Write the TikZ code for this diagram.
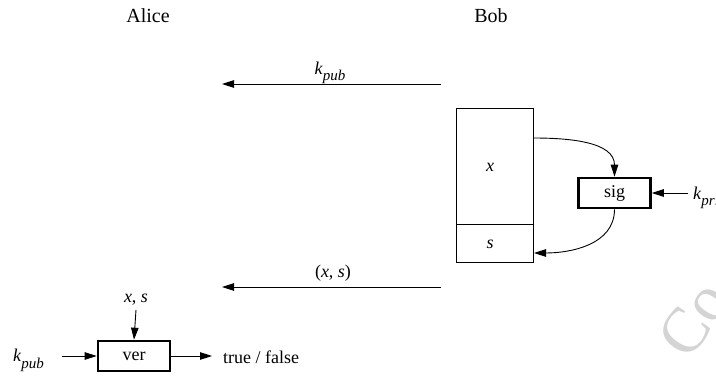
\documentclass[tikz,border=0pt]{standalone}
\usepackage{fontspec}
\setmainfont{Liberation Serif}
\usetikzlibrary{arrows.meta}

% italic key with italic subscript
\newcommand\keyname[1]{\textit{k}\raisebox{-6pt}{\fontsize{15}{15}\selectfont\textit{#1}}}

\begin{document}
\begin{tikzpicture}[x=1pt,y=-1pt,
  txt/.style={font=\fontsize{18}{21}\selectfont, inner sep=0pt, anchor=base},
  head/.style={font=\fontsize{20}{23}\selectfont, inner sep=0pt, anchor=base},
  flow/.style={line width=0.9pt, -{Triangle[length=12pt,width=7.5pt]}},
  thinbox/.style={draw, line width=0.9pt},
  thickbox/.style={draw, line width=2.6pt, minimum width=72pt, minimum height=30pt, inner sep=0pt, font=\fontsize{18}{21}\selectfont}
]
\useasboundingbox (0,0) rectangle (716,377);

% faint watermark in the corner
\node[font=\fontsize{64}{64}\selectfont, text=black!17, rotate=55, anchor=base west, inner sep=0pt] (wm) at (689,362) {Co};

% party names
\node[head] (alice) at (148,23) {Alice};
\node[head] (bob) at (491,23) {Bob};

% public key sent from Bob to Alice
\coordinate (kpubR) at (441,84);
\coordinate (kpubL) at (222,84);
\draw[flow] (kpubR) -- (kpubL);
\node[txt] (kpublbl) at (330,75) {\keyname{pub}};

% Bob's message block: x on top, signature s below
\draw[thinbox] (456,108) rectangle (533,262);
\draw[thinbox] (456,224) -- (533,224);
\coordinate (msgX) at (533,138);
\coordinate (msgS) at (534,253);
\node[txt] (xlbl) at (490,172) {\textit{x}};
\node[txt] (slbl) at (490,249) {\textit{s}};

% signing block
\node[thickbox] (sig) at (614.5,193) {sig};
\coordinate (kprR) at (688,193);
\node[txt, anchor=base west] (kprlbl) at (693,200) {\keyname{priv}};
\draw[flow] (kprR) -- (sig.east);
\draw[flow] (msgX) to[out=0,in=90] (sig.north);
\draw[flow] (sig.south) to[out=-90,in=0] (msgS);

% message and signature sent to Alice
\coordinate (xsR) at (441,287);
\coordinate (xsL) at (222,287);
\draw[flow] (xsR) -- (xsL);
\node[txt] (xslbl) at (333,278) {(\textit{x}, \textit{s})};

% verification block
\node[thickbox] (ver) at (134,356) {ver};
\node[txt] (xsin) at (136,302) {\textit{x}, \textit{s}};
\coordinate (xsinB) at (136,310);
\draw[flow] (xsinB) -- (ver.north);
\node[txt, anchor=base west] (kpubin) at (13,362) {\keyname{pub}};
\coordinate (kpubinR) at (62,356);
\draw[flow] (kpubinR) -- (ver.west);
\coordinate (verout) at (212,356);
\draw[flow] (ver.east) -- (verout);
\node[txt, anchor=base west] (result) at (223,363) {true / false};
\end{tikzpicture}
\end{document}
